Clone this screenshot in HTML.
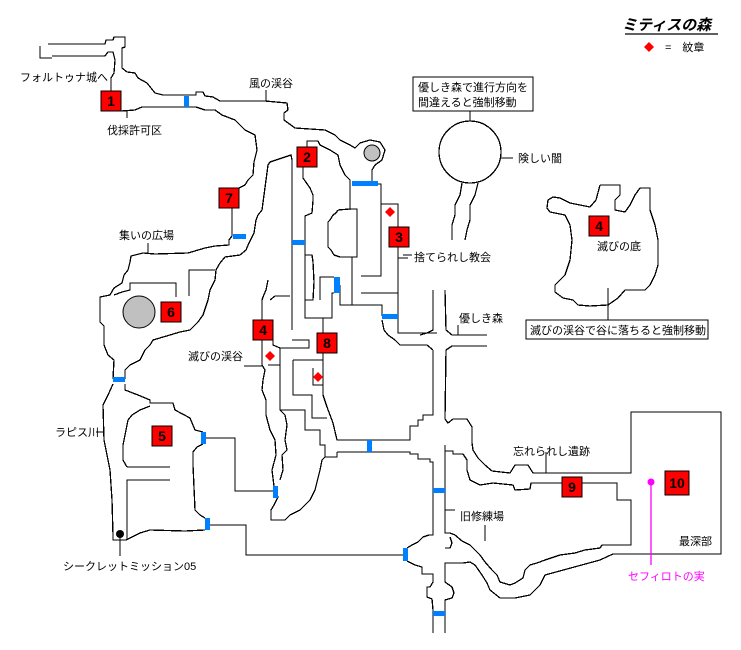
<!DOCTYPE html>
<html><head><meta charset="utf-8">
<style>
html,body{margin:0;padding:0;background:#fff;}
svg{display:block;}
text{font-family:"Liberation Sans","Noto Sans CJK JP",sans-serif;font-size:11px;fill:#000;}
.n{font-size:14px;font-weight:bold;text-anchor:middle;}
</style></head><body>
<svg width="741" height="650" viewBox="0 0 741 650" xmlns="http://www.w3.org/2000/svg">
<g fill="none" stroke="#000" stroke-width="1.3" shape-rendering="crispEdges">
<!-- top entrance -->
<polyline points="48,44 105,44 106,40 113,40 114,37 125,37 125,47 122,48 122,68 127,72 135,73 138,78 147,83 155,93 163,95 196,95 196,92 203,92 205,96 213,97 220,101 248,101 265,101 287,103 288,110 284,113 284,120 295,128 325,130 335,135 340,140 350,145 355,148 360,143 370,140 380,142 385,150 382,160 375,165 372,170 372,183"/>
<polyline points="40,46 40,58 52,58"/>
<polyline points="52,56 105,56 108,52 113,52 115,60 114,73 111,78 111,91"/>
<polyline points="121,111 135,110 142,107 170,107 196,107 205,110 215,110 222,115 235,120 245,130 255,135 257,150 254,162 253,175 248,180 245,185 239,188"/>
<polyline points="127,111 127,118"/>
<line x1="266" y1="90" x2="266" y2="101"/>
<!-- 7 corridor -->
<polyline points="292,330 292,160 291,155 285,157 276,160 270,162 268,165 266,180 264,195 262,210 258,215 256,220 254,233 249,243 246,250 240,255 225,257 220,263 216,270 215,280 210,290 208,300 203,315 198,322 190,330 180,332 170,335 153,340 150,345 145,350 140,360 130,365 125,370 125,379"/>
<polyline points="232,208 232,236 229,240 229,245 215,246 205,248 188,253 155,254 143,253 131,256 130,262 128,270 124,275 122,283 114,288 110,295 100,297 100,322 104,326 104,345 108,355 114,360 113,379"/>
<polyline points="114,295 122,292 130,290 130,283 176,283 176,297"/>
<polyline points="189,296 189,270 215,270"/>
<!-- 2 area -->
<polyline points="307,147 307,141 318,141 320,145 330,150 338,155 340,165 345,175 350,180 350,210"/>
<polyline points="303,167 303,178 310,188 313,195 313,200 312,213 305,216 305,318 332,318 332,293 334,293"/>
<polyline points="305,255 312,255 313,262 314,282 313,300 305,300"/>
<polyline points="320,300 320,277 334,277"/>
<polyline points="338,210 350,209 357,209 357,257 340,257 334,255 331,250 328,247 328,222 330,220 333,215 336,213 338,210"/>
<polyline points="340,285 340,305 382,305 382,316"/>
<line x1="352" y1="257" x2="352" y2="305"/>
<polyline points="378,184 381,184 381,276 361,276"/>
<polyline points="361,293 398,293"/>
<polyline points="381,204 398,204 398,227"/>
<polyline points="398,246 398,333 437,333"/>
<polyline points="382,320 384,330 388,335 395,340 400,345 427,345 433,350"/>
<line x1="398" y1="258" x2="408" y2="258"/>
<!-- central corridor top junction -->
<polyline points="433,290 433,330 427,333 420,335"/>
<polyline points="445,290 446,330 452,335 487,335"/>
<polyline points="487,346 452,346 446,350 445,419"/>
<!-- central corridor left wall -->
<polyline points="433,350 433,415 423,415 423,420 418,420 418,426 410,426 410,440 337,440 333,423 327,407 323,395 323,353"/>
<polyline points="337,452 410,452 410,454 418,454 418,459 430,459 430,462 433,462 433,535 429,535 423,537 418,542 412,545 407,548"/>
<polyline points="407,561 415,565 422,567 422,574 433,574 433,582 430,587 427,587 427,597 432,599 433,610 433,633"/>
<polyline points="337,452 337,457 325,457 322,460 320,470 315,490 310,500 300,510 290,515 285,520 271,520 271,510 274,505 278,497 274,486"/>
<!-- right wall & eastern region -->
<polyline points="445,419 448,423 453,419 467,419 472,427 472,443 473,450 478,458 485,465 492,471 510,473 515,465 528,465 533,473 631,473 631,412 721,412 721,554 613,554 600,560 545,575 540,585 535,590 530,595 515,598 500,598 490,590 487,583 482,575 475,565 470,562 463,563 445,563 445,582 452,587 454,593 452,598 445,600 445,633"/>
<polyline points="445,445 445,451 453,451 453,454 463,454 467,460 467,470 470,480 480,485 493,483 513,485 515,490 530,489 531,483 562,483"/>
<polyline points="582,483 617,483 617,500 631,500 631,545 602,545 600,548 585,550 575,553 560,555 545,560 537,563 530,565 525,570 523,578 515,583 510,585 500,582 497,575 492,570 485,562 480,555 475,550 470,545 462,541 455,535 450,533 445,533 445,451"/>
<polyline points="445,548 450,548 452,543 450,537"/>
<line x1="445" y1="510" x2="455" y2="510"/>
<line x1="485" y1="525" x2="485" y2="541"/>
<!-- 4/8 area -->
<polyline points="323,318 323,333"/>
<polyline points="292,340 309,340 309,348 280,348 280,410 305,410 305,430 320,430 320,445 325,445 325,457"/>
<polyline points="293,360 323,360"/>
<polyline points="293,360 293,395 312,395 312,418 327,418"/>
<polyline points="313,368 313,385 323,385"/>
<polyline points="268,280 266,290 263,297 262,300 262,320"/>
<polyline points="270,300 275,296 290,296"/>
<polyline points="262,340 262,365 265,370 263,380 262,390 266,400 266,415 270,430 275,440 276,455 272,470 274,486"/>
<polyline points="273,340 273,345 280,348"/>
<polyline points="268,365 280,365"/>
<polyline points="280,410 285,415 287,425 285,440 287,450 282,455 283,470 280,480"/>
<!-- left region 5 -->
<polyline points="113,384 108,395 103,405 104,440 110,470 112,500 113,535 113,540 126,540 140,533 150,530 185,531 205,530"/>
<polyline points="125,384 125,390 138,395 150,400 150,403 173,403 175,410 190,418 195,430 203,432"/>
<polyline points="127,467 123,460 123,445 128,420 132,415 140,410 150,406"/>
<polyline points="127,467 170,467"/>
<polyline points="127,540 127,480 170,480"/>
<polyline points="203,444 197,447 193,452 193,465 195,510 200,515 205,518"/>
<polyline points="205,438 235,438 235,491 273,491"/>
<polyline points="207,525 246,525 246,555 404,555"/>
<!-- 険しい闇 -->
<circle cx="470" cy="152" r="31"/>
<polyline points="462,183 460,195 455,205 455,215 452,225 452,240"/>
<polyline points="478,183 475,195 470,205 470,220 467,230 465,240"/>
<line x1="470" y1="110" x2="470" y2="121"/>
<line x1="501" y1="158" x2="513" y2="158"/>
<!-- 滅びの底 -->
<polyline points="600,185 620,185 620,195 615,200 615,210 625,212 630,205 635,195 640,188 650,188 650,210 655,225 658,240 658,265 655,275 650,285 645,290 625,290 618,298 608,305 590,306 578,305 573,300 563,298 555,292 555,285 560,280 565,275 570,260 572,240 570,225 565,215 550,212 547,208 548,200 553,197 560,198 570,203 580,205 590,207 596,200 600,185"/>
<line x1="608" y1="288" x2="608" y2="320"/>
<!-- label leaders -->
<line x1="244" y1="366" x2="262" y2="366"/>
<line x1="403" y1="255" x2="412" y2="255"/>
<line x1="458" y1="325" x2="458" y2="335"/>
<line x1="148" y1="243" x2="148" y2="253"/>
<line x1="96" y1="432" x2="104" y2="432"/>
<line x1="120" y1="535" x2="120" y2="556"/>
<line x1="546" y1="452" x2="546" y2="473"/>
</g>
<!-- callout boxes -->
<rect x="413" y="77" width="120" height="34" fill="#fff" stroke="#000"/>
<text x="418" y="91">優しき森で進行方向を</text>
<text x="418" y="106">間違えると強制移動</text>
<rect x="526" y="320" width="182" height="19" fill="#fff" stroke="#000"/>
<text x="530" y="334">滅びの渓谷で谷に落ちると強制移動</text>
<!-- gray circles -->
<circle cx="372" cy="153" r="8" fill="#c0c0c0" stroke="#000"/>
<circle cx="139" cy="312" r="16" fill="#c0c0c0" stroke="#000"/>
<!-- blue gates -->
<g fill="#0080ff">
<rect x="184" y="96" width="5" height="11"/>
<rect x="352" y="181" width="26" height="5"/>
<rect x="233" y="234" width="13" height="5"/>
<rect x="292" y="240" width="13" height="5"/>
<rect x="334" y="277" width="6" height="16"/>
<rect x="382" y="314" width="16" height="5"/>
<rect x="113" y="377" width="12" height="5"/>
<rect x="201" y="432" width="5" height="12"/>
<rect x="367" y="440" width="5" height="12"/>
<rect x="273" y="486" width="5" height="12"/>
<rect x="433" y="488" width="12" height="5"/>
<rect x="205" y="518" width="5" height="12"/>
<rect x="403" y="548" width="5" height="13"/>
<rect x="433" y="611" width="12" height="5"/>
</g>
<!-- red boxes -->
<g fill="#ff0000" stroke="#000">
<rect x="101" y="91" width="20" height="20"/>
<rect x="297" y="147" width="20" height="20"/>
<rect x="219" y="188" width="20" height="20"/>
<rect x="389" y="227" width="20" height="20"/>
<rect x="589" y="216" width="20" height="20"/>
<rect x="161" y="302" width="20" height="20"/>
<rect x="253" y="320" width="20" height="20"/>
<rect x="317" y="333" width="20" height="20"/>
<rect x="152" y="426" width="20" height="20"/>
<rect x="562" y="477" width="20" height="20"/>
<rect x="665" y="471" width="24" height="24"/>
</g>
<g>
<text class="n" x="111" y="106">1</text>
<text class="n" x="307" y="162">2</text>
<text class="n" x="229" y="203">7</text>
<text class="n" x="399" y="242">3</text>
<text class="n" x="599" y="231">4</text>
<text class="n" x="171" y="317">6</text>
<text class="n" x="263" y="335">4</text>
<text class="n" x="327" y="348">8</text>
<text class="n" x="162" y="441">5</text>
<text class="n" x="572" y="492">9</text>
<text class="n" x="677" y="488">10</text>
</g>
<!-- diamonds -->
<g fill="#ff0000">
<polygon points="390,207 395,212 390,217 385,212"/>
<polygon points="270,351 275,356 270,361 265,356"/>
<polygon points="318,372 323,377 318,382 313,377"/>
<polygon points="649,42 654,47 649,52 644,47"/>
</g>
<!-- zefiroto -->
<circle cx="651" cy="482" r="3.5" fill="#ff00ff"/>
<line x1="651" y1="482" x2="651" y2="565" stroke="#ff00ff" stroke-width="1.3"/>
<text x="628" y="580" style="fill:#ff00ff">セフィロトの実</text>
<!-- labels -->
<text x="622" y="30" style="font-size:15px;font-weight:bold;font-style:italic">ミティスの森</text>
<line x1="625" y1="34" x2="718" y2="34" stroke="#000" stroke-width="1.3"/>
<text x="665" y="51">=　紋章</text>
<text x="20" y="81">フォルトゥナ城へ</text>
<text x="107" y="134">伐採許可区</text>
<text x="249" y="87">風の渓谷</text>
<text x="518" y="162">険しい闇</text>
<text x="414" y="261">捨てられし教会</text>
<text x="597" y="250">滅びの底</text>
<text x="459" y="322">優しき森</text>
<text x="119" y="239">集いの広場</text>
<text x="188" y="360">滅びの渓谷</text>
<text x="55" y="436">ラピス川</text>
<text x="513" y="455">忘れられし遺跡</text>
<text x="460" y="520">旧修練場</text>
<text x="679" y="545">最深部</text>
<text x="63" y="570">シークレットミッション05</text>
<circle cx="120" cy="534" r="4" fill="#000"/>
</svg>
</body></html>
